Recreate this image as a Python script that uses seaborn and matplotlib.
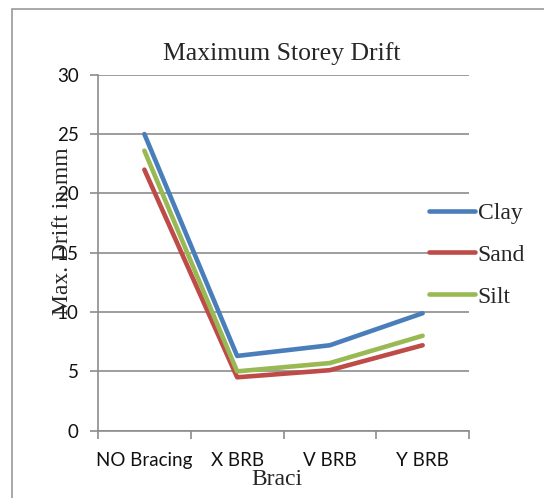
import numpy as np
import pandas as pd
import matplotlib
matplotlib.use("Agg")
import matplotlib.pyplot as plt
from matplotlib.patches import Rectangle
import seaborn as sns

# values
bracing = ["NO Bracing", "X BRB", "V BRB", "Y BRB"]
clay = [25.0, 6.3, 7.2, 9.9]
sand = [22.0, 4.5, 5.1, 7.2]
silt = [23.6, 5.0, 5.7, 8.0]
soils = ["Clay", "Sand", "Silt"]
colors = ["#4A7EBB", "#BE4B48", "#98B954"]

df = pd.DataFrame({
    "Bracing": bracing * 3,
    "Drift": clay + sand + silt,
    "Soil": [s for s in soils for _ in bracing],
})

sns.set_style("white")
serif = ["Liberation Serif", "DejaVu Serif"]
grid_c = "#8C8C8C"

fig = plt.figure(figsize=(5.44, 4.98), dpi=100)
ax = fig.add_axes([98 / 544, 1 - 430.7 / 498, 371 / 544, 356 / 498])

sns.lineplot(data=df, x="Bracing", y="Drift", hue="Soil", palette=colors,
             sort=False, linewidth=3.3, ax=ax, legend=False)

ax.set_xlim(-0.5, 3.5)
ax.set_ylim(0, 30)
ax.set_yticks(np.arange(0, 31, 5))
ax.set_xticks(range(len(bracing)))
ax.set_xticklabels(bracing)
ax.set_xticks(np.arange(-0.5, 3.6, 1), minor=True)

ax.yaxis.grid(True, color=grid_c, linewidth=1.2)
ax.set_axisbelow(True)
for s in ["top", "right"]:
    ax.spines[s].set_visible(False)
for s in ["left", "bottom"]:
    ax.spines[s].set_color(grid_c)
    ax.spines[s].set_linewidth(1.2)

ax.tick_params(axis="y", length=6, width=1.2, color=grid_c, pad=8,
               labelsize=13.5, left=True)
ax.tick_params(axis="x", which="major", length=0, pad=15, labelsize=13.5)
ax.tick_params(axis="x", which="minor", length=6, width=1.2, color=grid_c,
               bottom=True)
for lab in ax.get_xticklabels() + ax.get_yticklabels():
    lab.set_fontfamily(["Lato", "DejaVu Sans"])
    lab.set_color("#111111")

ax.set_ylabel("Max. Drift in mm", fontsize=17, family=serif, va="center")
ax.yaxis.set_label_coords(-0.097, 0.561)
ax.set_xlabel("Braci", fontsize=17, family=serif, va="center")
ax.xaxis.set_label_coords(0.482, -0.138)

fig.text(281.5 / 544, 1 - 54 / 498, "Maximum Storey Drift", fontsize=18.5,
         family=serif, ha="center", va="center")

handles = [plt.Line2D([], [], color=c, linewidth=3.3) for c in colors]
fig.legend(handles, soils, loc="center left",
           bbox_to_anchor=(424 / 544, 1 - 255 / 498), frameon=False,
           prop={"family": serif, "size": 17}, handlelength=1.95,
           handletextpad=0.12, labelspacing=0.86, borderaxespad=0,
           borderpad=0.2)

# outer chart border (runs off the right and bottom edges)
fig.patches.append(Rectangle((12 / 544, -0.2), 1.2, 1.2 - 9 / 498,
                             transform=fig.transFigure, fill=False,
                             edgecolor="#9A9A9A", linewidth=1.2))

fig.savefig("out.png", dpi=100)
